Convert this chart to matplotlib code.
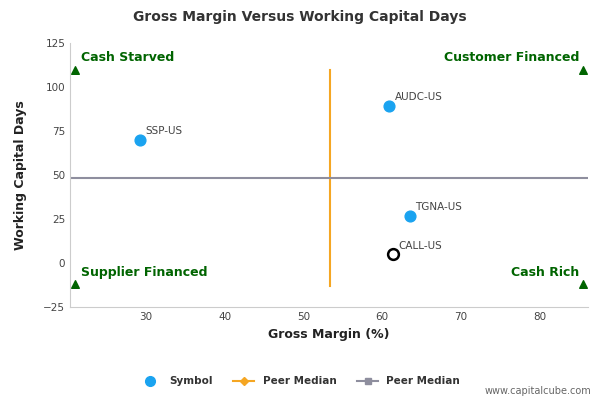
import matplotlib
matplotlib.use("Agg")
import matplotlib.pyplot as plt
from matplotlib.lines import Line2D

names = ["SSP-US", "AUDC-US", "TGNA-US"]
gm = [29.2, 60.9, 63.5]
wcd = [70, 89.5, 27]
focus_name = "CALL-US"
focus_gm = 61.3
focus_wcd = 5
median_gm = 53.4
median_wcd = 48.5
xticks = [30, 40, 50, 60, 70, 80]
yticks = [-25, 0, 25, 50, 75, 100, 125]
quadrants = ["Cash Starved", "Customer Financed", "Supplier Financed", "Cash Rich"]

fig = plt.figure(figsize=(6, 4), dpi=100)
ax = fig.add_axes([0.117, 0.232, 0.863, 0.66])
xmin, xmax, ymin, ymax = 20.4, 86.1, -25, 125
ax.set_xlim(xmin, xmax); ax.set_ylim(ymin, ymax)

ax.plot([median_gm, median_gm], [-13, 110], color="#f5a623", lw=1.5)
ax.plot([xmin, xmax], [median_wcd, median_wcd], color="#8e8e9e", lw=1.5)
ax.scatter(gm, wcd, s=60, color="#1aa3f0", zorder=3)
ax.scatter([focus_gm], [focus_wcd], s=60, facecolor="white", edgecolor="black", lw=1.8, zorder=3)
for n, x, y in zip(names + [focus_name], gm + [focus_gm], wcd + [focus_wcd]):
    ax.annotate(n, (x, y), xytext=(4, 4), textcoords="offset points", fontsize=7.5, color="#444444")

tx = [21, 85.5, 21, 85.5]; ty = [110, 110, -12, -12]
ax.scatter(tx, ty, marker="^", s=30, color="#006400", zorder=3)
gk = dict(color="#006400", fontsize=9, fontweight="bold")
ax.text(21.8, 113, quadrants[0], ha="left", va="bottom", **gk)
ax.text(85, 113, quadrants[1], ha="right", va="bottom", **gk)
ax.text(21.8, -9, quadrants[2], ha="left", va="bottom", **gk)
ax.text(85, -9, quadrants[3], ha="right", va="bottom", **gk)

ax.set_xticks(xticks); ax.set_yticks(yticks)
ax.tick_params(labelsize=7.5, colors="#444444", length=0)
for s in ["top", "right"]:
    ax.spines[s].set_visible(False)
for s in ["left", "bottom"]:
    ax.spines[s].set_color("#cccccc")
ax.set_xlabel("Gross Margin (%)", fontsize=9, fontweight="bold", color="#222222")
ax.set_ylabel("Working Capital Days", fontsize=9, fontweight="bold", color="#222222", labelpad=12)
fig.text(0.5, 0.948, "Gross Margin Versus Working Capital Days", ha="center", fontsize=10, fontweight="bold", color="#333333")

handles = [Line2D([], [], marker="o", ls="none", color="#1aa3f0", ms=7),
           Line2D([], [], marker="D", color="#f5a623", ms=4, lw=1.5),
           Line2D([], [], marker="s", color="#8e8e9e", ms=5, lw=1.5)]
fig.legend(handles, ["Symbol", "Peer Median", "Peer Median"], loc="center", bbox_to_anchor=(0.5, 0.047),
           ncol=3, frameon=False, prop={"size": 7.5, "weight": "bold"}, labelcolor="#333333")
fig.text(0.985, 0.015, "www.capitalcube.com", ha="right", fontsize=7, color="#666666")
fig.savefig("out.png")
